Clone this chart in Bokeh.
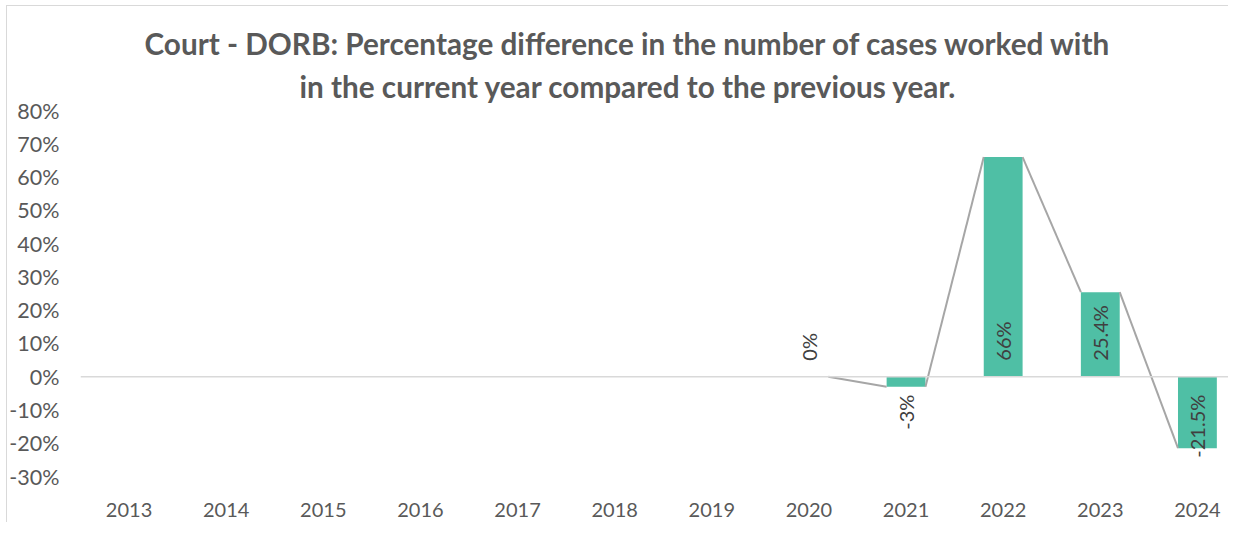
import math
from bokeh.plotting import figure
from bokeh.models import ColumnDataSource, Range1d, FixedTicker, Span, Title
from bokeh.core.properties import value
from bokeh.embed import file_html
from bokeh.resources import INLINE

# ---- data ----
years = ["2013", "2014", "2015", "2016", "2017", "2018", "2019",
         "2020", "2021", "2022", "2023", "2024"]
pct_change = [None, None, None, None, None, None, None,
              0.0, -3.0, 66.0, 25.4, -21.5]
pct_labels = ["", "", "", "", "", "", "", "0%", "-3%", "66%", "25.4%", "-21.5%"]
y_ticks = [-30, -20, -10, 0, 10, 20, 30, 40, 50, 60, 70, 80]

title_line1 = "Court - DORB: Percentage difference in the number of cases worked with"
title_line2 = "in the current year compared to the previous year."

# ---- styles ----
FONT = "Lato"
BAR_COLOR = "#4FBFA5"
LINE_COLOR = "#A6A6A6"
TEXT_COLOR = "#595959"
LABEL_COLOR = "#404040"
BAR_WIDTH = 0.4

idx = [i for i, v in enumerate(pct_change) if v is not None]
vals = [pct_change[i] for i in idx]

bar_src = ColumnDataSource(dict(x=idx, top=vals))

pos_src = ColumnDataSource(dict(
    x=[i for i in idx if pct_change[i] >= 0],
    y=[0 for i in idx if pct_change[i] >= 0],
    t=[pct_labels[i] for i in idx if pct_change[i] >= 0]))
neg_src = ColumnDataSource(dict(
    x=[i for i in idx if pct_change[i] < 0],
    y=[0 for i in idx if pct_change[i] < 0],
    t=[pct_labels[i] for i in idx if pct_change[i] < 0]))

seg_src = ColumnDataSource(dict(
    x0=[i + BAR_WIDTH / 2 for i in idx[:-1]],
    y0=vals[:-1],
    x1=[i - BAR_WIDTH / 2 for i in idx[1:]],
    y1=vals[1:]))

p = figure(width=1228, height=522, output_backend="svg", toolbar_location=None,
           x_range=Range1d(-0.5, 11.32), y_range=Range1d(-30, 80),
           min_border_left=80, min_border_right=0, min_border_top=110,
           min_border_bottom=46, title=None)
p.styles = {"box-shadow": "inset 6px 5px 0 0 #FFFFFF, inset 7px 6px 0 0 #D9D9D9"}

p.outline_line_color = None
p.background_fill_color = "white"
p.border_fill_color = None
p.xgrid.visible = False
p.ygrid.visible = False

# zero line
p.add_layout(Span(location=0, dimension="width", line_color="#D9D9D9", line_width=1.5))

p.vbar(x="x", top="top", bottom=0, width=BAR_WIDTH, source=bar_src,
       fill_color=BAR_COLOR, line_color=None)
p.segment(x0="x0", y0="y0", x1="x1", y1="y1", source=seg_src,
          line_color=LINE_COLOR, line_width=2)

p.text(x="x", y="y", text="t", source=pos_src, angle=math.pi / 2,
       text_align="left", text_baseline="middle", y_offset=-16,
       text_font=value(FONT), text_font_size="20px", text_color=LABEL_COLOR)
p.text(x="x", y="y", text="t", source=neg_src, angle=math.pi / 2,
       text_align="right", text_baseline="middle", y_offset=18,
       text_font=value(FONT), text_font_size="20px", text_color=LABEL_COLOR)

# axes
p.xaxis.ticker = FixedTicker(ticks=list(range(len(years))))
p.xaxis.major_label_overrides = {i: y for i, y in enumerate(years)}
p.yaxis.ticker = FixedTicker(ticks=y_ticks)
p.yaxis.major_label_overrides = {t: f"{t}%" for t in y_ticks}
for ax in (p.xaxis[0], p.yaxis[0]):
    ax.axis_line_color = None
    ax.major_tick_line_color = None
    ax.minor_tick_line_color = None
    ax.major_label_text_font = FONT
    ax.major_label_text_font_size = "21.5px"
    ax.major_label_text_color = TEXT_COLOR
p.xaxis.major_label_text_font_size = "20px"
p.xaxis.major_label_standoff = 20
p.yaxis.major_label_standoff = 15

# titles (second line first so it sits nearest the plot)
for txt, off, so in ((title_line2, 219, 13), (title_line1, 64, 0)):
    p.add_layout(Title(text=txt, align="left", offset=off,
                       text_font=FONT, text_font_size="29.7px",
                       text_font_style="bold", text_color=TEXT_COLOR,
                       standoff=so), "above")

open("out.html", "w").write(file_html(p, INLINE))
